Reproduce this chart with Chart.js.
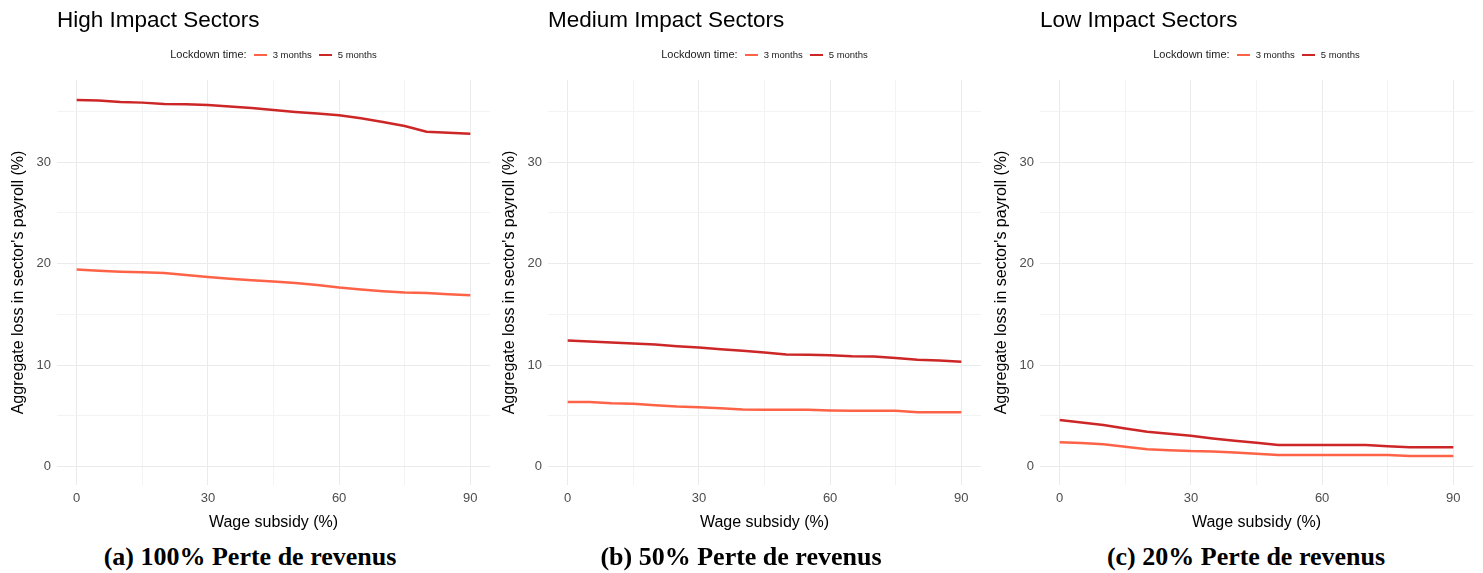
<!DOCTYPE html>
<html>
<head>
<meta charset="utf-8">
<script src="https://cdn.jsdelivr.net/npm/chart.js@4.4.1/dist/chart.umd.min.js"></script>
<style>
  body { margin: 0; background: #fff; width: 1483px; height: 573px; overflow: hidden; font-family: "Liberation Sans", Arial, sans-serif; }
  .panel { position: absolute; top: 0; width: 492px; height: 540px; }
  .legend { position: absolute; top: 48px; left: 57px; width: 433px; text-align: center; font-size: 11px; color: #1a1a1a; white-space: nowrap; }
  .legend .item { font-size: 9.5px; }
  .legend .sw { display: inline-block; width: 13px; height: 2px; vertical-align: middle; margin: 0 6px 0 7px; }
  .caption { position: absolute; top: 542px; width: 492px; line-height: 30px; text-align: center; font-family: "Liberation Serif", "Times New Roman", serif; font-weight: bold; font-size: 26px; color: #000; }
</style>
</head>
<body>
<div id="root"></div>
<script>
// wage subsidy (%) on the x axis
const wageSubsidy = [0, 5, 10, 15, 20, 25, 30, 35, 40, 45, 50, 55, 60, 65, 70, 75, 80, 85, 90];

// aggregate loss in sector's payroll (%)
const high3 = [19.41, 19.31, 19.21, 19.15, 19.08, 18.89, 18.69, 18.52, 18.36, 18.23, 18.1, 17.9, 17.64, 17.44, 17.28, 17.15, 17.11, 16.98, 16.89];
const high5 = [36.13, 36.07, 35.93, 35.87, 35.74, 35.7, 35.64, 35.5, 35.34, 35.15, 34.95, 34.79, 34.62, 34.33, 33.97, 33.57, 33.0, 32.89, 32.79];
const med3 = [6.37, 6.37, 6.24, 6.18, 6.05, 5.92, 5.85, 5.75, 5.62, 5.59, 5.59, 5.59, 5.52, 5.49, 5.49, 5.49, 5.36, 5.36, 5.36];
const med5 = [12.42, 12.32, 12.22, 12.12, 12.03, 11.86, 11.73, 11.57, 11.41, 11.24, 11.05, 11.01, 10.98, 10.88, 10.85, 10.69, 10.52, 10.46, 10.33];
const low3 = [2.39, 2.32, 2.19, 1.94, 1.71, 1.61, 1.52, 1.48, 1.39, 1.26, 1.13, 1.13, 1.13, 1.13, 1.13, 1.13, 1.03, 1.03, 1.03];
const low5 = [4.58, 4.35, 4.1, 3.74, 3.42, 3.23, 3.03, 2.77, 2.55, 2.35, 2.13, 2.13, 2.13, 2.13, 2.13, 2.0, 1.9, 1.9, 1.9];

const panelTitles = ['High Impact Sectors', 'Medium Impact Sectors', 'Low Impact Sectors'];
const captions = ['(a) 100% Perte de revenus', '(b) 50% Perte de revenus', '(c) 20% Perte de revenus'];
const seriesLabels = ['3 months', '5 months'];
const seriesColors = ['#ff6347', '#cd2626'];
const xTicks = [0, 15, 30, 45, 60, 75, 90];
const yTicks = [0, 5, 10, 15, 20, 25, 30, 35];

const panels = [
  { left: 0, capCenter: 250, series: [high3, high5] },
  { left: 491, capCenter: 741, series: [med3, med5] },
  { left: 983, capCenter: 1246, series: [low3, low5] },
];

const root = document.getElementById('root');

panels.forEach((p, i) => {
  const div = document.createElement('div');
  div.className = 'panel';
  div.style.left = p.left + 'px';
  div.innerHTML = `<canvas id="c${i}"></canvas>
    <div class="legend">Lockdown time:<span class="sw" style="background:${seriesColors[0]}"></span><span class="item">${seriesLabels[0]}</span><span class="sw" style="background:${seriesColors[1]}"></span><span class="item">${seriesLabels[1]}</span></div>`;
  root.appendChild(div);

  const cap = document.createElement('div');
  cap.className = 'caption';
  cap.style.left = (p.capCenter - 246) + 'px';
  cap.textContent = captions[i];
  root.appendChild(cap);

  new Chart(document.getElementById('c' + i), {
    type: 'line',
    data: {
      datasets: p.series.map((vals, k) => ({
        label: seriesLabels[k],
        data: vals.map((v, j) => ({ x: wageSubsidy[j], y: v })),
        borderColor: seriesColors[k],
        borderWidth: 2.5,
        pointRadius: 0,
        tension: 0,
      })),
    },
    options: {
      responsive: true,
      maintainAspectRatio: false,
      animation: false,
      layout: { padding: { left: 0, right: 2, top: 0, bottom: 0 } },
      plugins: {
        legend: { display: false },
        tooltip: { enabled: false },
        title: {
          display: true,
          text: panelTitles[i],
          align: 'start',
          fullSize: false,
          color: '#000',
          font: { family: 'Liberation Sans', size: 22.5, weight: 'normal' },
          padding: { top: 7, bottom: 46 },
        },
      },
      scales: {
        x: {
          type: 'linear',
          min: -4.5,
          max: 94.5,
          afterBuildTicks: (s) => { s.ticks = xTicks.map((v) => ({ value: v })); },
          afterFit: (s) => { s.height = 55; },
          border: { display: false },
          grid: {
            drawTicks: false,
            color: (ctx) => (ctx.tick && ctx.tick.value % 30 === 0 ? '#ebebeb' : '#f3f3f3'),
          },
          ticks: {
            padding: 6,
            color: '#4d4d4d',
            font: { family: 'Liberation Sans', size: 13 },
            maxRotation: 0,
            callback: (v) => (v % 30 === 0 ? v : ''),
          },
          title: {
            display: true,
            text: 'Wage subsidy (%)',
            color: '#000',
            font: { family: 'Liberation Sans', size: 16 },
            padding: { top: 0, bottom: 8 },
          },
        },
        y: {
          type: 'linear',
          min: -1.82,
          max: 38.1,
          afterBuildTicks: (s) => { s.ticks = yTicks.map((v) => ({ value: v })); },
          afterFit: (s) => { s.width = 57; },
          border: { display: false },
          grid: {
            drawTicks: false,
            color: (ctx) => (ctx.tick && ctx.tick.value % 10 === 0 ? '#ebebeb' : '#f3f3f3'),
          },
          ticks: {
            padding: 6,
            color: '#4d4d4d',
            font: { family: 'Liberation Sans', size: 13 },
            callback: (v) => (v % 10 === 0 ? v : ''),
          },
          title: {
            display: true,
            text: "Aggregate loss in sector's payroll (%)",
            color: '#000',
            font: { family: 'Liberation Sans', size: 16 },
            padding: { top: 9, bottom: 0 },
          },
        },
      },
    },
  });
});
</script>
</body>
</html>
